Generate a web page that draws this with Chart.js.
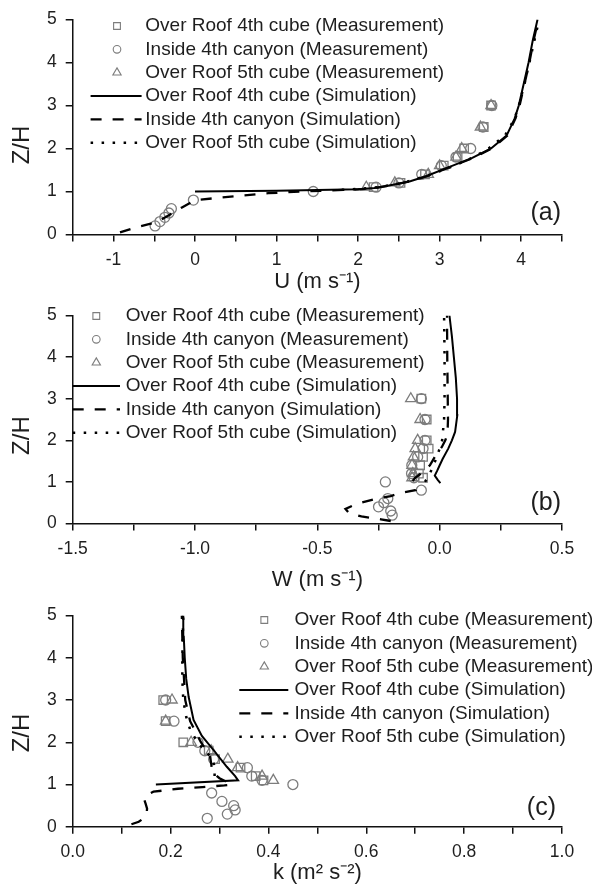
<!DOCTYPE html>
<html>
<head>
<meta charset="utf-8">
<script src="https://cdn.jsdelivr.net/npm/chart.js@4.4.1/dist/chart.umd.min.js"></script>
<style>
  html, body { margin: 0; padding: 0; background: #fff; }
  #wrap { position: relative; width: 592px; height: 888px; }
  canvas { position: absolute; left: 0; }
</style>
</head>
<body>
<div id="wrap">
  <canvas id="chartU" width="592" height="296" style="top:0px"></canvas>
  <canvas id="chartW" width="592" height="300" style="top:296px"></canvas>
  <canvas id="chartK" width="592" height="292" style="top:596px"></canvas>
</div>
<script>
// series names (same in all three panels)
const seriesLabels = [
  "Over Roof 4th cube (Measurement)",
  "Inside 4th canyon (Measurement)",
  "Over Roof 5th cube (Measurement)",
  "Over Roof 4th cube (Simulation)",
  "Inside 4th canyon (Simulation)",
  "Over Roof 5th cube (Simulation)"
];

// heights Z/H of the measurement points
const zRoof = [1.1, 1.2, 1.4, 1.6, 1.8, 2.0, 2.5, 3.0];
const zCanyon = [0.2, 0.3, 0.4, 0.5, 0.6, 0.8, 1.0, 1.1, 1.2, 1.4, 1.6, 1.8, 2.0, 2.5, 3.0];

// (a) U
const uRoof4Meas = [2.19, 2.52, 2.82, 3.05, 3.22, 3.3, 3.54, 3.63];
const uCanyonMeas = [-0.49, -0.43, -0.37, -0.32, -0.29, -0.02, 1.45, 2.22, 2.5, 2.78, 3.02, 3.2, 3.38, 3.53, 3.64];
const uRoof5Meas = [2.1, 2.45, 2.86, 3.0, 3.2, 3.27, 3.5, 3.63];

const zRoof4SimU = [1.0, 1.02, 1.05, 1.08, 1.13, 1.24, 1.36, 1.55, 1.78, 2.0, 2.3, 2.7, 3.0, 3.5, 4.0, 4.5, 5.0];
const uRoof4Sim = [0.0, 1.0, 2.0, 2.2, 2.35, 2.64, 2.84, 3.09, 3.4, 3.63, 3.82, 3.92, 3.97, 4.03, 4.09, 4.14, 4.2];
const zCanyonSimU = [0.05, 0.14, 0.29, 0.46, 0.63, 0.8, 0.9, 0.96, 1.0, 1.03, 1.05, 1.08, 1.13, 1.24, 1.36, 1.55, 1.78, 2.0, 2.3, 2.7, 3.0, 3.5, 4.0, 4.5, 5.0];
const uCanyonSim = [-0.92, -0.77, -0.47, -0.31, -0.16, 0.0, 0.55, 0.9, 1.3, 1.75, 2.0, 2.2, 2.36, 2.65, 2.85, 3.1, 3.41, 3.64, 3.83, 3.93, 3.98, 4.04, 4.1, 4.15, 4.21];
const zRoof5SimU = [1.04, 1.06, 1.1, 1.2, 1.4, 1.6, 1.8, 2.0, 2.3, 2.7, 3.0, 3.5, 4.0, 4.5, 5.0];
const uRoof5Sim = [1.8, 2.0, 2.25, 2.55, 2.9, 3.18, 3.42, 3.6, 3.8, 3.92, 3.97, 4.04, 4.1, 4.16, 4.22];

// (b) W
const wRoof4Meas = [-0.068, -0.085, -0.08, -0.068, -0.045, -0.053, -0.053, -0.075];
const wCanyonMeas = [-0.194, -0.2, -0.25, -0.228, -0.212, -0.075, -0.222, -0.105, -0.115, -0.114, -0.09, -0.068, -0.06, -0.06, -0.075];
const wRoof5Meas = [-0.113, -0.11, -0.113, -0.107, -0.1, -0.09, -0.08, -0.118];

const zRoof4SimW = [0.97, 1.05, 1.15, 1.27, 1.4, 1.55, 1.8, 2.0, 2.2, 2.6, 3.0, 3.5, 4.0, 4.5, 5.0];
const wRoof4Sim = [0.003, -0.008, -0.02, -0.01, 0.0, 0.012, 0.035, 0.05, 0.063, 0.072, 0.071, 0.066, 0.058, 0.05, 0.04];
const zCanyonSimW = [0.06, 0.1, 0.17, 0.25, 0.35, 0.46, 0.58, 0.66, 0.73, 0.8, 0.95, 1.1, 1.23, 1.4, 1.65, 1.84, 2.0, 2.15, 2.5, 3.0, 4.0, 5.0];
const wCanyonSim = [-0.2, -0.24, -0.32, -0.37, -0.385, -0.345, -0.27, -0.2, -0.16, -0.1, -0.12, -0.1, -0.07, -0.04, -0.015, 0.009, 0.023, 0.032, 0.034, 0.033, 0.031, 0.03];
const zRoof5SimW = [1.0, 1.2, 1.4, 1.6, 1.8, 2.0, 2.5, 3.0, 4.0, 5.0];
const wRoof5Sim = [-0.06, -0.04, -0.025, -0.012, 0.0, 0.01, 0.018, 0.02, 0.02, 0.018];

// (c) k
const kRoof4Meas = [0.39, 0.374, 0.343, 0.291, 0.278, 0.226, 0.19, 0.185];
const kCanyonMeas = [0.275, 0.316, 0.332, 0.329, 0.305, 0.284, 0.45, 0.387, 0.366, 0.357, 0.288, 0.27, 0.256, 0.207, 0.19];
const kRoof5Meas = [0.41, 0.387, 0.337, 0.317, 0.283, 0.242, 0.19, 0.203];

const zRoof4SimK = [1.0, 1.1, 1.2, 1.42, 1.77, 2.15, 2.53, 3.07, 3.5, 4.0, 4.5, 5.0];
const kRoof4Sim = [0.17, 0.338, 0.332, 0.315, 0.291, 0.264, 0.247, 0.237, 0.232, 0.229, 0.227, 0.226];
const zCanyonSimK = [0.06, 0.12, 0.2, 0.3, 0.43, 0.55, 0.65, 0.75, 0.83, 0.9, 0.94, 0.98, 1.0, 1.15, 1.3, 1.5, 1.7, 2.0, 2.5, 3.0, 4.0, 5.0];
const kCanyonSim = [0.12, 0.135, 0.145, 0.151, 0.152, 0.149, 0.146, 0.15, 0.165, 0.215, 0.265, 0.31, 0.325, 0.3, 0.285, 0.283, 0.28, 0.262, 0.24, 0.23, 0.225, 0.223];
const zRoof5SimK = [1.2, 1.35, 1.5, 1.65, 1.8, 2.0, 2.3, 2.6, 3.0, 3.5, 4.0, 4.5, 5.0];
const kRoof5Sim = [0.29, 0.29, 0.288, 0.283, 0.27, 0.255, 0.24, 0.232, 0.226, 0.224, 0.224, 0.225, 0.226];

// tick label values
const zTickLabels = [0, 1, 2, 3, 4, 5];

const FONT = '"Liberation Sans", Arial, Helvetica, sans-serif';
const TEXT = '#1e1e1e';
const MARK = '#7d7d7d';

Chart.defaults.font.family = FONT;
Chart.defaults.color = TEXT;

function pts(xs, zs) {
  return xs.map((v, i) => ({ x: v, y: zs[i] }));
}

function measSet(i, xs, zs, style, r) {
  return {
    label: seriesLabels[i], data: pts(xs, zs), showLine: false,
    pointStyle: style, pointRadius: r, pointBorderWidth: 1.3,
    pointBorderColor: MARK, pointBackgroundColor: 'rgba(0,0,0,0)', order: 2
  };
}

function simSet(i, xs, zs, dash, width) {
  return {
    label: seriesLabels[i], data: pts(xs, zs), showLine: true,
    borderColor: '#000', borderWidth: width, borderDash: dash,
    pointRadius: 0, tension: 0, fill: false, order: 1
  };
}

function onStep(v, step) {
  return Math.abs(v / step - Math.round(v / step)) < 1e-6;
}

// legend, panel tag and Z/H title drawn on the canvas
const panelDecor = {
  id: 'panelDecor',
  afterDraw(chart, args, o) {
    const ctx = chart.ctx;
    ctx.save();
    chart.data.datasets.forEach((ds, i) => {
      const y = o.top + i * o.step;
      if (ds.showLine) {
        ctx.strokeStyle = ds.borderColor;
        ctx.lineWidth = ds.borderWidth;
        ctx.setLineDash(ds.borderDash);
        ctx.beginPath();
        ctx.moveTo(o.lineX0, y);
        ctx.lineTo(o.lineX1, y);
        ctx.stroke();
      } else {
        ctx.setLineDash([]);
        ctx.strokeStyle = MARK;
        ctx.lineWidth = 1.1;
        const r = ds.pointRadius - 1.2;
        const x = o.markerX;
        ctx.beginPath();
        if (ds.pointStyle === 'rect') {
          const s = r * Math.SQRT1_2;
          ctx.rect(x - s, y - s, 2 * s, 2 * s);
        } else if (ds.pointStyle === 'triangle') {
          for (let k = 0; k < 3; k++) {
            const a = k * 2 * Math.PI / 3;
            const px = x + Math.sin(a) * r, py = y - Math.cos(a) * r;
            if (k) ctx.lineTo(px, py); else ctx.moveTo(px, py);
          }
          ctx.closePath();
        } else {
          ctx.arc(x, y, r, 0, 2 * Math.PI);
        }
        ctx.stroke();
      }
      ctx.setLineDash([]);
      ctx.fillStyle = TEXT;
      ctx.font = '19px ' + FONT;
      ctx.textAlign = 'left';
      ctx.textBaseline = 'middle';
      ctx.fillText(ds.label, o.textX, y);
    });

    ctx.font = '25px ' + FONT;
    ctx.textAlign = 'right';
    ctx.fillText(o.tag, o.tagX, o.tagY);

    ctx.translate(o.titleX, o.titleY);
    ctx.rotate(-Math.PI / 2);
    ctx.textAlign = 'center';
    ctx.font = '24px ' + FONT;
    ctx.fillText('Z/H', 0, 0);
    ctx.restore();
  }
};

function makeChart(id, p) {
  return new Chart(document.getElementById(id), {
    type: 'scatter',
    data: {
      datasets: [
        measSet(0, p.m4, zRoof, 'rect', 6),
        measSet(1, p.mc, zCanyon, 'circle', 5),
        measSet(2, p.m5, zRoof, 'triangle', 6),
        simSet(3, p.s4, p.s4z, [], 2),
        simSet(4, p.sc, p.scz, [11, 11], 2.3),
        simSet(5, p.s5, p.s5z, [2.5, 8.5], 2.5)
      ]
    },
    options: {
      responsive: false,
      animation: false,
      devicePixelRatio: 1,
      layout: { padding: { top: p.padTop, right: 30, bottom: 0, left: 0 } },
      plugins: {
        legend: { display: false },
        tooltip: { enabled: false },
        panelDecor: p.decor
      },
      scales: {
        x: {
          type: 'linear', min: p.xMin, max: p.xMax,
          ticks: {
            stepSize: p.xStep, padding: 8, color: TEXT, font: { size: 17.5 },
            maxRotation: 0, autoSkip: false,
            callback: v => onStep(v, p.xLabelStep) ? v.toFixed(p.xDec) : ''
          },
          grid: { drawOnChartArea: false, drawTicks: true, tickLength: 7, color: '#111', lineWidth: 1.5 },
          border: { color: '#111', width: 1.5 },
          title: { display: true, text: p.xTitle, color: TEXT, font: { size: 22 }, padding: { top: 0, bottom: p.titlePad } },
          afterFit: s => { s.height = p.xHeight; }
        },
        y: {
          type: 'linear', min: 0, max: 5,
          ticks: {
            stepSize: 0.5, padding: 9, color: TEXT, font: { size: 17.5 },
            callback: v => zTickLabels.includes(v) ? String(v) : ''
          },
          grid: { drawOnChartArea: false, drawTicks: true, tickLength: 7, color: '#111', lineWidth: 1.5 },
          border: { color: '#111', width: 1.5 },
          afterFit: s => { s.width = 72.7; }
        }
      }
    },
    plugins: [panelDecor]
  });
}

makeChart('chartU', {
  m4: uRoof4Meas, mc: uCanyonMeas, m5: uRoof5Meas,
  s4: uRoof4Sim, s4z: zRoof4SimU, sc: uCanyonSim, scz: zCanyonSimU, s5: uRoof5Sim, s5z: zRoof5SimU,
  xMin: -1.5, xMax: 4.5, xStep: 0.5, xLabelStep: 1, xDec: 0,
  xTitle: 'U (m s\u207B\u00B9)', titlePad: 1, padTop: 16, xHeight: 61.5,
  decor: { top: 26, step: 23.33, markerX: 117, textX: 145.3, lineX0: 90.6, lineX1: 141.6,
           tag: '(a)', tagX: 561, tagY: 213, titleX: 22.6, titleY: 145 }
});

makeChart('chartW', {
  m4: wRoof4Meas, mc: wCanyonMeas, m5: wRoof5Meas,
  s4: wRoof4Sim, s4z: zRoof4SimW, sc: wCanyonSim, scz: zCanyonSimW, s5: wRoof5Sim, s5z: zRoof5SimW,
  xMin: -1.5, xMax: 0.5, xStep: 0.25, xLabelStep: 0.5, xDec: 1,
  xTitle: 'W (m s\u207B\u00B9)', titlePad: 3, padTop: 10, xHeight: 72.5,
  decor: { top: 20, step: 23.33, markerX: 96.3, textX: 125.7, lineX0: 72.7, lineX1: 120,
           tag: '(b)', tagX: 561, tagY: 207, titleX: 22.6, titleY: 139.6 }
});

makeChart('chartK', {
  m4: kRoof4Meas, mc: kCanyonMeas, m5: kRoof5Meas,
  s4: kRoof4Sim, s4z: zRoof4SimK, sc: kCanyonSim, scz: zCanyonSimK, s5: kRoof5Sim, s5z: zRoof5SimK,
  xMin: 0, xMax: 1, xStep: 0.1, xLabelStep: 0.2, xDec: 1,
  xTitle: 'k (m\u00B2 s\u207B\u00B2)', titlePad: 2, padTop: 13.3, xHeight: 61.2,
  decor: { top: 24, step: 23.33, markerX: 264.3, textX: 294.5, lineX0: 239.3, lineX1: 288.3,
           tag: '(c)', tagX: 556, tagY: 212, titleX: 22.6, titleY: 137 }
});
</script>
</body>
</html>
